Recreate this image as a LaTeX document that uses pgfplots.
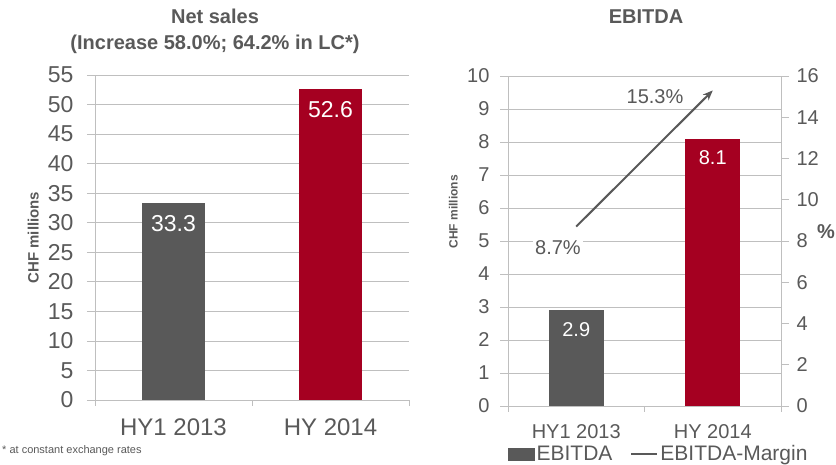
\documentclass[border=0pt]{standalone}
\usepackage{pgfplots}
\pgfplotsset{compat=1.18}
\usepackage{fontspec}
\setmainfont{Liberation Sans}
\usetikzlibrary{arrows.meta}

\definecolor{txt}{HTML}{595959}
\definecolor{bargray}{HTML}{595959}
\definecolor{barred}{HTML}{A50021}
\definecolor{gridc}{HTML}{BFBFBF}

\newcommand{\fs}[1]{\fontsize{#1}{#1}\selectfont}

\pgfplotsset{
  /pgf/number format/assume math mode=true,
  panel/.style={
    scale only axis,
    anchor=south west,
    xmin=-0.5, xmax=1.5, ymin=0,
    axis x line*=bottom, axis y line*=left,
    axis line style={gridc, line width=0.8pt},
    ymajorgrids, grid style={gridc, line width=0.8pt},
    xtick={0,1}, xticklabels={HY1 2013, HY 2014},
    major x tick style={draw=none},
    minor xtick={-0.5,0.5,1.5},
    minor x tick style={draw=gridc, line width=0.8pt},
    minor tick length=6pt,
    y tick style={draw=gridc, line width=0.8pt},
    tick align=outside, major tick length=8pt,
    tick label style={text=txt},
    ylabel style={text=txt, font=\bfseries, anchor=center},
  },
  barlabel/.style={
    nodes near coords={\pgfmathprintnumber[fixed,fixed zerofill,precision=1]{\pgfplotspointmeta}},
    nodes near coords style={text=white, anchor=north, yshift=-8.5pt, font=\fs{#1}},
  },
}

\begin{document}
\begin{tikzpicture}[x=1pt,y=1pt]
\useasboundingbox (0,0) rectangle (836,465);

% titles
\node[anchor=base, text=txt, font=\bfseries\fs{20}] at (215,441) {Net sales};
\node[anchor=base, text=txt, font=\bfseries\fs{20}] at (215,415) {(Increase 58.0\%; 64.2\% in LC*)};
\node[anchor=base, text=txt, font=\bfseries\fs{20}] at (646,441) {EBITDA};
\node[anchor=base west, text=txt, font=\fs{11}, inner sep=0pt] at (2,11) {* at constant exchange rates};
\node[text=txt, font=\bfseries\fs{20}] at (826,233) {\%};

% net sales
\begin{axis}[panel,
  at={(95pt,65pt)}, width=314pt, height=325pt,
  ymax=55, ytick={0,5,...,55},
  ybar, bar width=63pt,
  yticklabel style={font=\fs{23}, xshift=-10pt},
  xticklabel style={font=\fs{24}, yshift=-7pt},
  ylabel={CHF millions},
  ylabel style={font=\bfseries\fs{15}, at={(axis description cs:-0.197,0.5)}},
]
\addplot[fill=bargray, draw=none, bar shift=0pt, barlabel=23] coordinates {(0,33.3)};
\addplot[fill=barred, draw=none, bar shift=0pt, barlabel=23] coordinates {(1,52.6)};
\end{axis}

% EBITDA bars
\begin{axis}[panel,
  at={(508pt,59pt)}, width=273pt, height=330pt,
  ymax=10, ytick={0,1,...,10},
  ybar, bar width=55pt,
  yticklabel style={font=\fs{20}, xshift=-7pt},
  xticklabel style={font=\fs{20}, yshift=-7pt},
  ylabel={CHF millions},
  ylabel style={font=\bfseries\fs{12}, at={(axis description cs:-0.2,0.588)}},
]
\addplot[fill=bargray, draw=none, bar shift=0pt, barlabel=20] coordinates {(0,2.9)};
\addplot[fill=barred, draw=none, bar shift=0pt, barlabel=20] coordinates {(1,8.1)};
\end{axis}

% EBITDA margin
\begin{axis}[
  scale only axis, anchor=south west,
  at={(508pt,59pt)}, width=273pt, height=330pt,
  xmin=-0.5, xmax=1.5, ymin=0, ymax=16,
  axis x line=none, axis y line*=right,
  axis line style={gridc, line width=0.8pt},
  ytick={0,2,...,16},
  y tick style={draw=gridc, line width=0.8pt},
  tick align=outside, major tick length=8pt,
  yticklabel style={text=txt, font=\fs{20}, xshift=4pt},
  legend columns=2,
  legend style={at={(axis description cs:0,-0.145)}, anchor=west, draw=none, fill=none,
    inner sep=0pt, font=\fs{21}, text=txt,
    /tikz/every even column/.append style={column sep=16pt}},
]
\addlegendimage{legend image code/.code={\fill[bargray] (0pt,-6pt) rectangle (26pt,6pt);}}
\addlegendentry{EBITDA}
\addlegendimage{legend image code/.code={\draw[txt, line width=2pt] (0pt,0pt) -- (26pt,0pt);}}
\addlegendentry{EBITDA-Margin}
\addplot[forget plot, txt, line width=2pt, -{Stealth[length=10pt,width=8pt]}] coordinates {(0,8.7) (1,15.3)};
\node[fill=white, text=txt, font=\fs{20}, inner sep=2pt] at (axis cs:-0.134,7.66) {8.7\%};
\node[fill=white, text=txt, font=\fs{20}, inner sep=2pt] at (axis cs:0.577,14.98) {15.3\%};
\end{axis}
\end{tikzpicture}
\end{document}
